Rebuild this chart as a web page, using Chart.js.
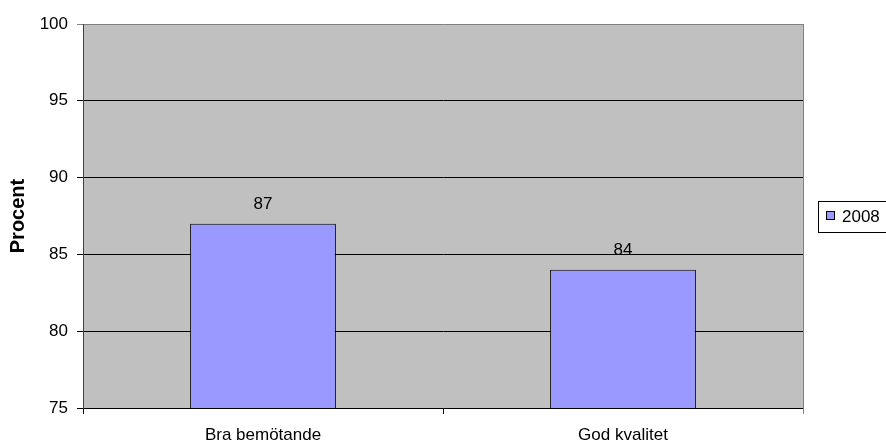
<!DOCTYPE html>
<html>
<head>
<meta charset="utf-8">
<script src="https://cdn.jsdelivr.net/npm/chart.js@4/dist/chart.umd.min.js"></script>
<style>
html,body{margin:0;padding:0;background:#fff;}
#wrap{width:886px;height:444px;position:relative;}
</style>
</head>
<body>
<div id="wrap"><canvas id="c" width="886" height="444"></canvas></div>
<script>
const categories = ["Bra bemötande", "God kvalitet"];
const seriesLabel = "2008";
const seriesValues = [87, 84];
const yTicks = [75, 80, 85, 90, 95, 100];

const FONT = "'Liberation Sans', Arial, sans-serif";

const bgPlugin = {
  id: 'bg',
  beforeDraw(chart) {
    const {ctx, chartArea: a} = chart;
    ctx.save();
    ctx.fillStyle = '#C0C0C0';
    ctx.fillRect(a.left, a.top, a.right - a.left, a.bottom - a.top);
    ctx.restore();
  },
  afterDraw(chart) {
    const {ctx, chartArea: a} = chart;
    ctx.save();
    ctx.strokeStyle = '#808080';
    ctx.lineWidth = 1;
    ctx.beginPath();
    ctx.moveTo(Math.round(a.right) + 0.5, a.top);
    ctx.lineTo(Math.round(a.right) + 0.5, a.bottom + 6);
    ctx.stroke();
    // value labels
    const meta = chart.getDatasetMeta(0);
    ctx.fillStyle = '#000';
    ctx.font = '17px ' + FONT;
    ctx.textAlign = 'center';
    ctx.textBaseline = 'middle';
    meta.data.forEach((bar, i) => {
      ctx.fillText(String(chart.data.datasets[0].data[i]), bar.x, bar.y - 19);
    });
    // legend
    const lx = 818.5, ly = 201.5;
    ctx.strokeStyle = '#000';
    ctx.fillStyle = '#fff';
    ctx.fillRect(lx, ly, 80, 31);
    ctx.strokeRect(lx, ly, 80, 31);
    ctx.fillStyle = chart.data.datasets[0].backgroundColor;
    ctx.fillRect(826.5, 211.5, 8, 8);
    ctx.strokeRect(826.5, 211.5, 8, 8);
    ctx.fillStyle = '#000';
    ctx.textAlign = 'left';
    ctx.fillText(chart.data.datasets[0].label, 842, 217);
    ctx.restore();
  }
};

new Chart(document.getElementById('c'), {
  type: 'bar',
  data: {
    labels: categories,
    datasets: [{
      label: seriesLabel,
      data: seriesValues,
      backgroundColor: '#9999FF',
      borderColor: '#000',
      borderWidth: 1,
      categoryPercentage: 1,
      barPercentage: 0.405
    }]
  },
  options: {
    responsive: false,
    animation: false,
    layout: { padding: { left: 0, right: 83, top: 24, bottom: 0 } },
    plugins: { legend: { display: false }, tooltip: { enabled: false } },
    scales: {
      x: {
        grid: { display: true, drawOnChartArea: false, tickLength: 6, color: '#000', offset: true },
        border: { color: '#000', width: 1 },
        ticks: { color: '#000', font: { family: FONT, size: 17 }, padding: 11, maxRotation: 0 },
        afterFit(s) { s.height = 36; }
      },
      y: {
        min: 75, max: 100,
        afterBuildTicks(s) { s.ticks = yTicks.map(v => ({ value: v })); },
        grid: {
          tickLength: 6,
          color: (c) => (c.tick && c.tick.value === 100) ? '#808080' : '#000'
        },
        border: { color: '#404040', width: 1 },
        ticks: { color: '#000', font: { family: FONT, size: 17 }, padding: 9 },
        title: { display: true, text: 'Procent', color: '#000', font: { family: FONT, size: 20, weight: 'bold' }, padding: { top: 6, bottom: 0 } },
        afterFit(s) { s.width = 83; }
      }
    }
  },
  plugins: [bgPlugin]
});
</script>
</body>
</html>
